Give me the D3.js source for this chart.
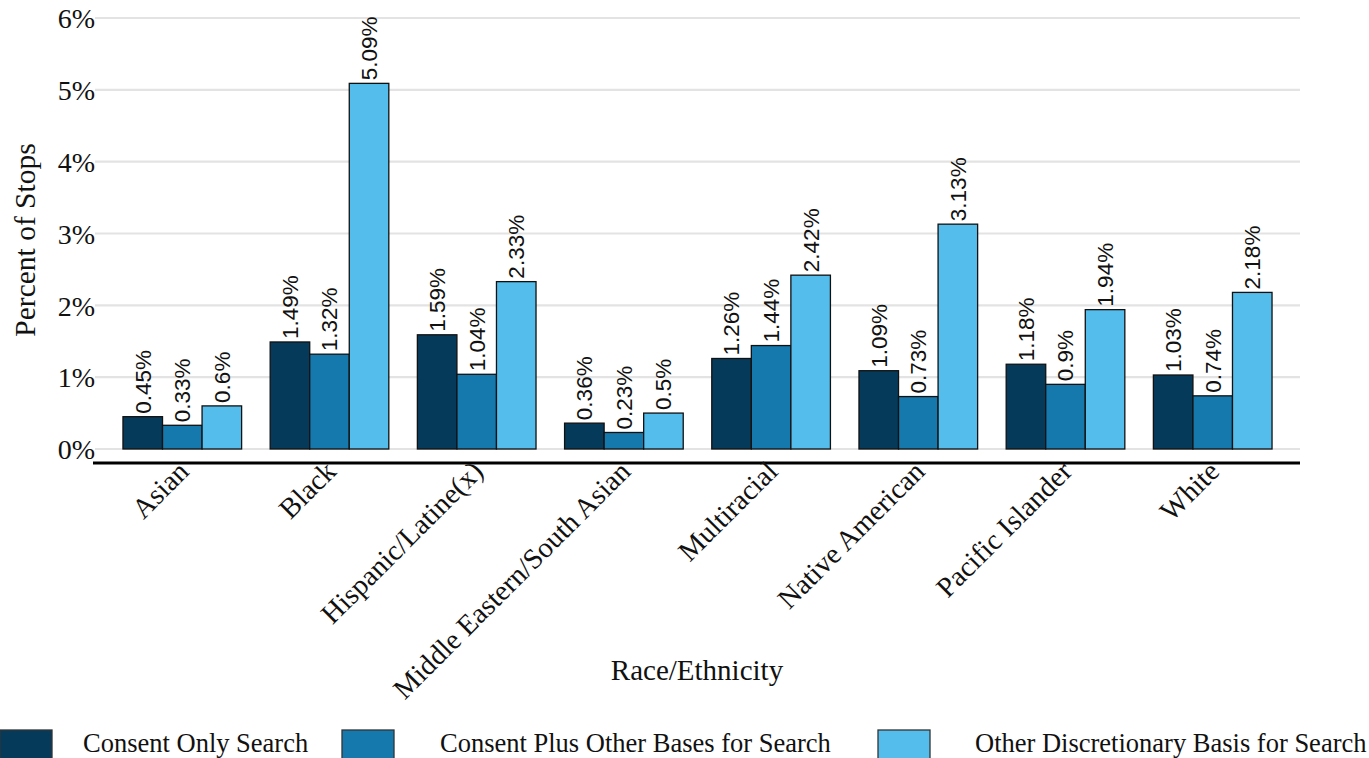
<!DOCTYPE html>
<html><head><meta charset="utf-8">
<script src="https://cdn.jsdelivr.net/npm/d3@7"></script>
<style>body{margin:0;background:#fff}svg{display:block}</style>
</head><body>
<svg id="chart" width="1369" height="758"></svg>
<script>
const categories = ["Asian","Black","Hispanic/Latine(x)","Middle Eastern/South Asian","Multiracial","Native American","Pacific Islander","White"];
const seriesNames = ["Consent Only Search","Consent Plus Other Bases for Search","Other Discretionary Basis for Search"];
const consentOnly = [0.45,1.49,1.59,0.36,1.26,1.09,1.18,1.03];
const consentPlus = [0.33,1.32,1.04,0.23,1.44,0.73,0.9,0.74];
const otherDiscretionary = [0.6,5.09,2.33,0.5,2.42,3.13,1.94,2.18];
const yTicks = [0,1,2,3,4,5,6];
const colors = ["#063a5b","#1579ad","#55bdeb"];

const seriesValues = [consentOnly, consentPlus, otherDiscretionary];
const data = categories.map((c,i)=>({cat:c, vals: seriesValues.map((s,j)=>({key:seriesNames[j], v:s[i]}))}));

const svg = d3.select("#chart");
const serif = "'Liberation Serif','Times New Roman',serif";
const sans = "'Liberation Sans',Arial,sans-serif";

const x0 = d3.scaleBand().domain(categories).range([95,1300]).paddingInner(0.194).paddingOuter(0.19);
const x1 = d3.scaleBand().domain(seriesNames).range([0,x0.bandwidth()]);
const y = d3.scaleLinear().domain([0,6]).range([449,18]);
const color = d3.scaleOrdinal().domain(seriesNames).range(colors);

// gridlines
svg.append("g").selectAll("line").data(yTicks).join("line")
  .attr("x1",95).attr("x2",1300).attr("y1",d=>y(d)).attr("y2",d=>y(d))
  .attr("stroke","#e3e3e3").attr("stroke-width",2.2);

// y axis labels
const yAxis = d3.axisLeft(y).tickValues(yTicks).tickFormat(d=>d+"%").tickSize(0).tickPadding(0);
const ya = svg.append("g").attr("transform","translate(95,0)").call(yAxis);
ya.select(".domain").remove();
ya.selectAll("text").attr("font-family",serif).attr("font-size",28).attr("fill","#111").attr("dy","0.35em");

// bars
const groups = svg.append("g").selectAll("g").data(data).join("g")
  .attr("transform",d=>`translate(${x0(d.cat)},0)`);
groups.selectAll("rect").data(d=>d.vals).join("rect")
  .attr("x",d=>x1(d.key)).attr("width",x1.bandwidth())
  .attr("y",d=>y(d.v)).attr("height",d=>y(0)-y(d.v))
  .attr("fill",d=>color(d.key)).attr("stroke","#111").attr("stroke-width",1.3);
groups.selectAll("text").data(d=>d.vals).join("text")
  .attr("transform",d=>`translate(${x1(d.key)+x1.bandwidth()/2},${y(d.v)-3}) rotate(-90)`)
  .attr("dy","0.35em").attr("text-anchor","start")
  .attr("font-family",sans).attr("font-size",22.5).attr("fill","#111")
  .text(d=>d.v+"%");

// x axis
const xAxis = d3.axisBottom(x0).tickSize(0).tickPadding(0);
const xa = svg.append("g").attr("transform","translate(0,463)").call(xAxis);
xa.select(".domain").attr("d","M93,0H1300").attr("stroke","#000").attr("stroke-width",3);
xa.selectAll(".tick text")
  .attr("font-family",serif).attr("font-size",28.5).attr("fill","#111")
  .attr("text-anchor","end").attr("dy",null).attr("y",0)
  .attr("transform","translate(-6,-4) rotate(-45)")
  .attr("dominant-baseline","hanging");

// axis titles
svg.append("text").attr("x",697).attr("y",680).attr("text-anchor","middle")
  .attr("font-family",serif).attr("font-size",29).attr("fill","#111").text("Race/Ethnicity");
svg.append("text").attr("transform","translate(35,240) rotate(-90)").attr("text-anchor","middle")
  .attr("font-family",serif).attr("font-size",29.5).attr("fill","#111").text("Percent of Stops");

// legend
const legX = [0,342,878];
const legTextX = [83,440,975];
const leg = svg.append("g").selectAll("g").data(seriesNames).join("g");
leg.append("rect").attr("x",(d,i)=>legX[i]).attr("y",730).attr("width",52).attr("height",36)
  .attr("fill",d=>color(d)).attr("stroke","#333").attr("stroke-width",1.3);
leg.append("text").attr("x",(d,i)=>legTextX[i]).attr("y",752)
  .attr("font-family",serif).attr("font-size",26.5).attr("fill","#111").text(d=>d);
</script>
</body></html>
